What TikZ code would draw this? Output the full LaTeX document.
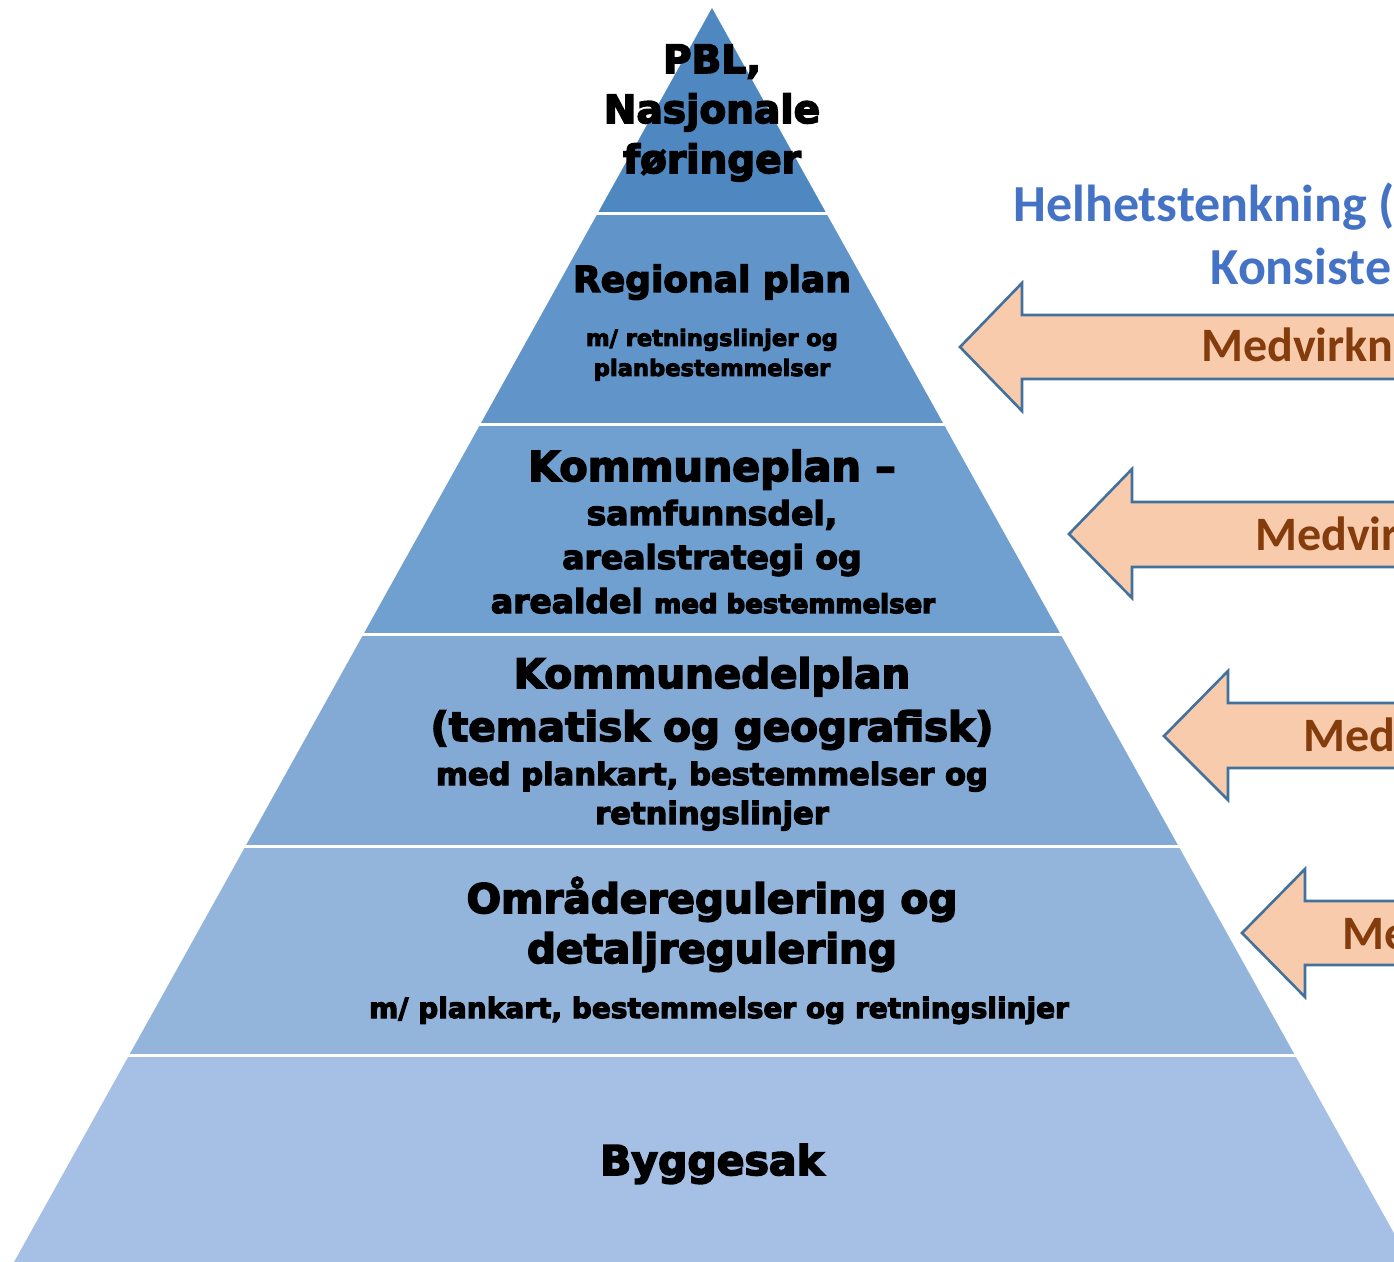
\documentclass[tikz,border=0pt]{standalone}
\usepackage{fontspec}
\newfontfamily\heavy{DejaVu Sans}
\newfontfamily\carlitofont{Carlito}
\newcommand{\heavyon}[1]{\special{pdf:literal direct 2 Tr \fpeval{#1*0.04} w}}
\definecolor{bandA}{HTML}{4F88C1}
\definecolor{bandB}{HTML}{6195C9}
\definecolor{bandC}{HTML}{70A0D0}
\definecolor{bandD}{HTML}{83A9D5}
\definecolor{bandE}{HTML}{93B4DB}
\definecolor{bandF}{HTML}{A5C0E4}
\definecolor{arrfill}{HTML}{F8CBAD}
\definecolor{arrline}{HTML}{41719C}
\definecolor{medtext}{HTML}{843C0C}
\definecolor{helblue}{HTML}{4472C4}
\tikzset{
  ptext/.style={inner sep=0pt, anchor=base, font=\heavy\bfseries\fontsize{#1}{#1}\selectfont\heavyon{#1}},
  sep/.style={draw=white, line width=1.5pt},
  blockarrow/.style={fill=arrfill, draw=arrline, line width=1.3pt, line join=miter},
  medlabel/.style={inner sep=0pt, anchor=base west, text=medtext, font=\carlitofont\bfseries\fontsize{24}{28}\selectfont},
  bluelabel/.style={inner sep=0pt, anchor=base west, text=helblue, font=\carlitofont\bfseries\fontsize{26}{30}\selectfont},
}
\begin{document}
\begin{tikzpicture}[x=0.5pt,y=-0.5pt]
\useasboundingbox (0,0) rectangle (1394,1262);
\clip (0,0) rectangle (1394,1262);
% pyramid bands
\fill[bandA] (712,8) -- (826.7,214) -- (597.3,214) -- cycle;
\fill[bandB] (597.3,214) -- (826.7,214) -- (944.1,425) -- (479.9,425) -- cycle;
\fill[bandC] (479.9,425) -- (944.1,425) -- (1061.0,635) -- (363.0,635) -- cycle;
\fill[bandD] (363.0,635) -- (1061.0,635) -- (1178.4,846) -- (245.6,846) -- cycle;
\fill[bandE] (245.6,846) -- (1178.4,846) -- (1294.8,1055) -- (129.2,1055) -- cycle;
\fill[bandF] (129.2,1055) -- (1294.8,1055) -- (1414.4,1270) -- (9.6,1270) -- cycle;
\draw[sep] (590,214) -- (835,214);
\draw[sep] (470,425) -- (955,425);
\draw[sep] (355,635) -- (1070,635);
\draw[sep] (235,846) -- (1190,846);
\draw[sep] (120,1055) -- (1305,1055);
% pyramid texts
\node[ptext=19.5] (pbl) at (712,73) {PBL,};
\node[ptext=19.5] (nasj) at (712,123) {Nasjonale};
\node[ptext=19.5] (foer) at (712,173) {føringer};
\node[ptext=18] (reg) at (712,292) {Regional plan};
\node[ptext=11.3] (reg2) at (712,346) {m/ retningslinjer og};
\node[ptext=11.3] (reg3) at (712,376) {planbestemmelser};
\node[ptext=20.6] (kp) at (712,481) {Kommuneplan –};
\node[ptext=16.5] (kp2) at (712,525) {samfunnsdel,};
\node[ptext=16.5] (kp3) at (712,569) {arealstrategi og};
\node[ptext=16.5] (kp4) at (713,613) {arealdel {\fontsize{13}{15}\selectfont med bestemmelser}};
\node[ptext=20.2] (kdp) at (712,688) {Kommunedelplan};
\node[ptext=20.2] (kdp2) at (712,741) {(tematisk og geografisk)};
\node[ptext=15.3] (kdp3) at (712,785) {med plankart, bestemmelser og};
\node[ptext=15.3] (kdp4) at (712,824) {retningslinjer};
\node[ptext=20.3] (omr) at (712,913) {Områderegulering og};
\node[ptext=20.3] (omr2) at (712,963) {detaljregulering};
\node[ptext=14] (omr3) at (719,1018) {m/ plankart, bestemmelser og retningslinjer};
\node[ptext=20.5] (bygg) at (712,1175) {Byggesak};
% right-hand texts
\node[bluelabel] (hel) at (1013,222) {Helhetstenkning (};
\node[bluelabel] (kons) at (1210,285) {Konsiste};
% block arrows
\draw[blockarrow] (960,347) -- (1022,283) -- (1022,315) -- (1420,315) -- (1420,379) -- (1022,379) -- (1022,411) -- cycle;
\draw[blockarrow] (1069,534) -- (1132,469) -- (1132,502) -- (1420,502) -- (1420,567) -- (1132,567) -- (1132,598) -- cycle;
\draw[blockarrow] (1164,736) -- (1228,671) -- (1228,703) -- (1420,703) -- (1420,768) -- (1228,768) -- (1228,800) -- cycle;
\draw[blockarrow] (1242,933) -- (1305,869) -- (1305,901) -- (1420,901) -- (1420,965) -- (1305,965) -- (1305,997) -- cycle;
\node[medlabel] (m1) at (1201,362) {Medvirkn};
\node[medlabel] (m2) at (1255,551) {Medvir};
\node[medlabel] (m3) at (1303,752) {Med};
\node[medlabel] (m4) at (1342,950) {Me};
\end{tikzpicture}
\end{document}
